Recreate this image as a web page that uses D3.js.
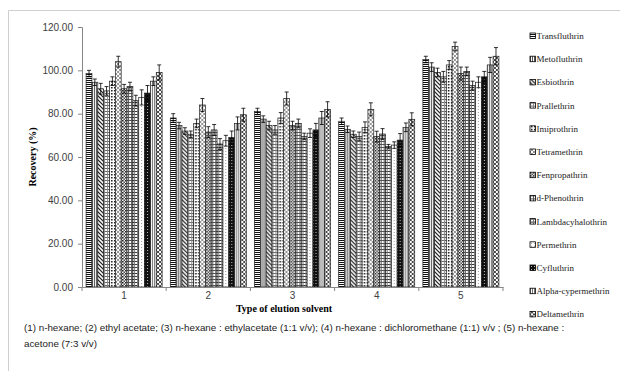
<!DOCTYPE html>
<html>
<head>
<meta charset="utf-8">
<script src="https://cdn.jsdelivr.net/npm/d3@7"></script>
<style>
  body { margin: 0; background: #fff; }
  svg { display: block; }
</style>
</head>
<body>
<svg id="chart"></svg>
<script>
const solvents = ["1", "2", "3", "4", "5"];
const pesticides = ["Transfluthrin", "Metofluthrin", "Esbiothrin", "Prallethrin", "Imiprothrin",
  "Tetramethrin", "Fenpropathrin", "d-Phenothrin", "Lambdacyhalothrin", "Permethrin",
  "Cyfluthrin", "Alpha-cypermethrin", "Deltamethrin"];

// recovery (%) per solvent, one value per pesticide
const recovery1 = [98.5, 94.5, 91.5, 90.5, 95, 104, 91.5, 92.5, 86, 87.5, 89.5, 95, 99];
const recovery2 = [78, 74.5, 72, 70.5, 75.5, 84, 71.5, 72.5, 66, 67.5, 69, 75.5, 79.5];
const recovery3 = [81, 77.5, 74.5, 72.5, 78, 87, 74.5, 75.5, 69.5, 71, 72.5, 78, 82];
const recovery4 = [76.5, 72.8, 70.5, 69.5, 73.7, 82, 69.4, 70.6, 64.8, 65.5, 67.8, 73.7, 77.4];
const recovery5 = [105, 101.5, 99, 97, 102.5, 111, 98.5, 99.5, 93, 94.5, 97, 102.5, 106.5];

// error bar half-widths
const error1 = [1.5, 1.5, 2.5, 2, 2, 2.5, 2, 2, 2.5, 3.5, 3.5, 2, 3.5];
const error2 = [2, 1.5, 1.5, 1.5, 2, 3, 2.5, 2.5, 2.5, 2.5, 3, 3, 3];
const error3 = [1.5, 1.5, 2, 2, 2.5, 3, 2, 2, 1.5, 2, 3, 3, 3.5];
const error4 = [1.5, 1.5, 1.5, 2, 2.5, 3, 2.5, 2.5, 1, 1.5, 3, 2, 3];
const error5 = [1.5, 2, 2, 2.5, 2, 2, 3, 2, 2, 2.5, 2.5, 3.5, 4];

const yTicks = [0, 20, 40, 60, 80, 100, 120];
const caption = [
  "(1) n-hexane; (2) ethyl acetate; (3) n-hexane : ethylacetate (1:1 v/v); (4) n-hexane : dichloromethane (1:1) v/v ; (5)  n-hexane :",
  "acetone (7:3 v/v)"
];

const recoveries = [recovery1, recovery2, recovery3, recovery4, recovery5];
const errors = [error1, error2, error3, error4, error5];
const table = solvents.map((s, i) => ({
  solvent: s,
  bars: pesticides.map((p, j) => ({ name: p, idx: j, value: recoveries[i][j], err: errors[i][j] }))
}));

const W = 620, H = 371;
const svg = d3.select("#chart").attr("width", W).attr("height", H);

// page frame (left and top edges)
svg.append("path")
   .attr("d", "M8.5,371V10.5H620")
   .attr("fill", "none")
   .attr("stroke", "#cfcfcf");

// ---- patterns
const defs = svg.append("defs");
function pattern(id, size, draw) {
  const p = defs.append("pattern")
     .attr("id", id)
     .attr("patternUnits", "userSpaceOnUse")
     .attr("width", size).attr("height", size);
  p.append("rect").attr("width", size).attr("height", size).attr("fill", "#fff");
  draw(p);
}
const ink = "#111";
pattern("p0", 2, p => p.append("rect").attr("width", 2).attr("height", 1).attr("fill", ink));
pattern("p1", 2, p => p.append("rect").attr("width", 1).attr("height", 2).attr("fill", "#555"));
pattern("p2", 4, p => {
  p.append("path").attr("d", "M-1,-1L5,5M-1,3L1,5M3,-1L5,1").attr("stroke", ink).attr("stroke-width", 1.2);
});
pattern("p3", 3, p => {
  p.append("rect").attr("width", 3).attr("height", 1).attr("fill", "#666");
  p.append("rect").attr("width", 1).attr("height", 3).attr("fill", "#888");
});
pattern("p4", 3, p => {
  p.append("rect").attr("x", 1).attr("y", 0).attr("width", 1.5).attr("height", 1.5).attr("fill", ink);
});
pattern("p5", 4, p => {
  p.append("path").attr("d", "M0,0L4,4M4,0L0,4").attr("stroke", "#777").attr("stroke-width", 0.8);
});
pattern("p6", 3, p => {
  p.append("rect").attr("width", 1.5).attr("height", 1.5).attr("fill", ink);
  p.append("rect").attr("x", 1.5).attr("y", 1.5).attr("width", 1.5).attr("height", 1.5).attr("fill", "#444");
});
pattern("p7", 3, p => {
  p.append("rect").attr("width", 3).attr("height", 1).attr("fill", "#555");
  p.append("rect").attr("width", 1).attr("height", 3).attr("fill", "#555");
});
pattern("p8", 3, p => {
  p.append("rect").attr("width", 3).attr("height", 1).attr("fill", "#333");
  p.append("rect").attr("width", 1).attr("height", 3).attr("fill", "#777");
});
pattern("p9", 3, p => {
  p.append("rect").attr("x", 1).attr("y", 1).attr("width", 1).attr("height", 1).attr("fill", "#999");
});
pattern("p10", 3, p => {
  p.append("rect").attr("width", 3).attr("height", 3).attr("fill", ink);
  p.append("rect").attr("x", 1).attr("y", 1).attr("width", 1).attr("height", 1).attr("fill", "#bbb");
});
pattern("p11", 2, p => p.append("rect").attr("width", 1).attr("height", 2).attr("fill", "#777"));
pattern("p12", 4, p => {
  p.append("path").attr("d", "M0,0L4,4M4,0L0,4").attr("stroke", "#333").attr("stroke-width", 0.9);
});

// ---- scales
const plot = { left: 82, right: 503, top: 27, bottom: 287 };
const x0 = d3.scaleBand().domain(solvents).range([plot.left, plot.right])
             .paddingInner(0.097).paddingOuter(0.0485);
const x1 = d3.scaleBand().domain(d3.range(pesticides.length)).range([0, x0.bandwidth()]);
const y = d3.scaleLinear().domain([0, 120]).range([plot.bottom, plot.top]);

// ---- y axis
const yAxis = svg.append("g")
   .attr("transform", `translate(${plot.left},0)`)
   .call(d3.axisLeft(y).tickValues(yTicks).tickFormat(d3.format(".2f")).tickSize(4).tickPadding(5));
yAxis.select(".domain").attr("stroke", "#868686");
yAxis.selectAll(".tick line").attr("stroke", "#868686");
yAxis.selectAll("text").attr("font-family", "Liberation Sans, Arial, sans-serif")
     .attr("font-size", 10).attr("fill", "#404040");

// ---- bars
const groups = svg.append("g").selectAll("g")
   .data(table)
   .join("g")
   .attr("transform", d => `translate(${x0(d.solvent)},0)`);

groups.selectAll("rect")
   .data(d => d.bars)
   .join("rect")
   .attr("x", d => x1(d.idx))
   .attr("y", d => y(d.value))
   .attr("width", x1.bandwidth())
   .attr("height", d => y(0) - y(d.value))
   .attr("fill", d => `url(#p${d.idx})`)
   .attr("stroke", "#222")
   .attr("stroke-width", 0.7);

// error bars
const eb = groups.selectAll("g.err")
   .data(d => d.bars)
   .join("g")
   .attr("class", "err")
   .attr("stroke", "#000")
   .attr("stroke-width", 0.8);
eb.append("line")
   .attr("x1", d => x1(d.idx) + x1.bandwidth() / 2)
   .attr("x2", d => x1(d.idx) + x1.bandwidth() / 2)
   .attr("y1", d => y(d.value - d.err))
   .attr("y2", d => y(d.value + d.err));
eb.append("line")
   .attr("x1", d => x1(d.idx) + x1.bandwidth() / 2 - 2)
   .attr("x2", d => x1(d.idx) + x1.bandwidth() / 2 + 2)
   .attr("y1", d => y(d.value + d.err))
   .attr("y2", d => y(d.value + d.err));
eb.append("line")
   .attr("x1", d => x1(d.idx) + x1.bandwidth() / 2 - 2)
   .attr("x2", d => x1(d.idx) + x1.bandwidth() / 2 + 2)
   .attr("y1", d => y(d.value - d.err))
   .attr("y2", d => y(d.value - d.err));

// ---- x axis
const xAxis = svg.append("g")
   .attr("transform", `translate(0,${plot.bottom})`)
   .call(d3.axisBottom(x0).tickSize(0).tickPadding(5).tickSizeOuter(0));
xAxis.select(".domain").attr("stroke", "#868686");
xAxis.selectAll("text").attr("font-family", "Liberation Sans, Arial, sans-serif")
     .attr("font-size", 10).attr("fill", "#404040");
// category boundary ticks
const step = x0.step();
xAxis.selectAll("line.sep")
   .data(d3.range(solvents.length + 1))
   .join("line")
   .attr("class", "sep")
   .attr("x1", i => plot.left + i * step)
   .attr("x2", i => plot.left + i * step)
   .attr("y1", 0).attr("y2", 4)
   .attr("stroke", "#868686");

// ---- axis titles
svg.append("text")
   .attr("transform", `translate(36,${(plot.top + plot.bottom) / 2}) rotate(-90)`)
   .attr("text-anchor", "middle")
   .attr("font-family", "Liberation Serif, Times New Roman, serif")
   .attr("font-weight", "bold")
   .attr("font-size", 10)
   .text("Recovery (%)");

svg.append("text")
   .attr("x", 284).attr("y", 312)
   .attr("text-anchor", "middle")
   .attr("font-family", "Liberation Serif, Times New Roman, serif")
   .attr("font-weight", "bold")
   .attr("font-size", 10)
   .text("Type of elution solvent");

// ---- legend
const legend = svg.append("g").selectAll("g")
   .data(pesticides)
   .join("g")
   .attr("transform", (d, i) => `translate(530,${36 + i * 23.2})`);
legend.append("rect")
   .attr("x", 0).attr("y", -3).attr("width", 5.5).attr("height", 5.5)
   .attr("fill", (d, i) => `url(#p${i})`)
   .attr("stroke", "#000").attr("stroke-width", 0.8);
legend.append("text")
   .attr("x", 6.5).attr("y", 3)
   .attr("font-family", "Liberation Serif, Times New Roman, serif")
   .attr("font-size", 9)
   .attr("fill", "#222")
   .text(d => d);

// ---- caption
svg.append("g").selectAll("text")
   .data(caption)
   .join("text")
   .attr("x", 24)
   .attr("y", (d, i) => 331 + i * 16)
   .attr("font-family", "Liberation Sans, Arial, sans-serif")
   .attr("font-size", 9.8)
   .attr("fill", "#222")
   .text(d => d);
</script>
</body>
</html>
